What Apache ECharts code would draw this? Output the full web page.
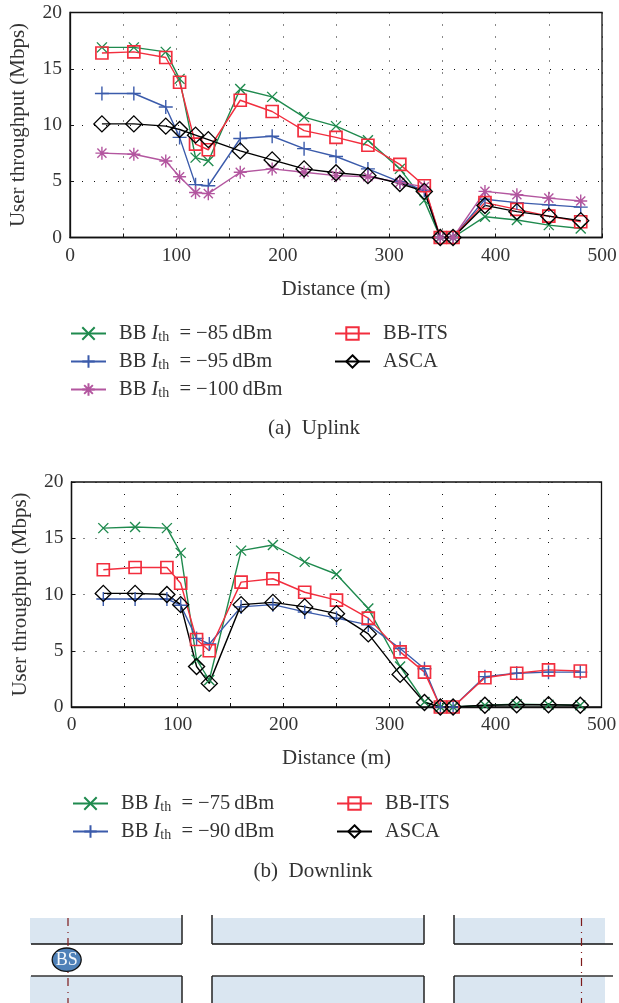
<!DOCTYPE html>
<html><head><meta charset="utf-8">
<style>html,body{margin:0;padding:0;background:#fff}#c{width:619px;height:1003px}</style>
<script src="https://cdn.jsdelivr.net/npm/echarts@6/dist/echarts.min.js"></script>
</head><body><div id="c"></div>
<script>
const distance=[30,60,90,103,118,130,160,190,220,250,280,310,333,348,360,390,420,450,480];
const upBB85=[16.9,16.9,16.5,14.1,7.1,6.8,13.2,12.5,10.7,9.9,8.65,6.1,3.3,0,0,1.85,1.55,1.1,0.8];
const upBB95=[12.8,12.8,11.6,8.9,4.7,4.6,8.8,9.0,7.9,7.2,6.1,4.95,4.2,0,0,3.4,3.1,2.9,2.7];
const upBB100=[7.5,7.4,6.8,5.4,4.0,3.9,5.8,6.1,5.8,5.5,5.4,4.9,4.5,0,0,4.1,3.8,3.5,3.25];
const upITS=[16.4,16.5,16.0,13.8,8.3,7.8,12.2,11.2,9.5,8.9,8.2,6.5,4.6,0,0,3.1,2.5,1.9,1.4];
const upASCA=[10.1,10.1,9.9,9.6,9.1,8.7,7.7,6.9,6.1,5.75,5.5,4.8,4.1,0,0,2.85,2.3,1.9,1.5];
const dnBB75=[15.9,16.0,15.9,13.7,4.2,2.4,13.9,14.4,12.9,11.8,8.75,3.6,0.45,0,0,0.15,0.25,0.2,0.15];
const dnBB90=[9.6,9.6,9.6,9.05,6.1,5.6,8.9,9.1,8.45,7.9,7.3,5.2,3.4,0,0,2.7,3.0,3.1,3.1];
const dnITS=[12.2,12.4,12.4,11.0,6.0,5.0,11.1,11.4,10.2,9.5,7.9,4.9,3.1,0,0,2.6,3.0,3.3,3.2];
const dnASCA=[10.1,10.1,10.0,9.1,3.6,2.1,9.1,9.3,8.9,8.3,6.5,2.9,0.4,0,0,0.15,0.2,0.2,0.15];
const xLabel='Distance (m)', yLabel='User throughput (Mbps)';
const legendThresholdsUp=['−85','−95','−100'], legendThresholdsDn=['−75','−90'];

const serif='"Liberation Serif",serif', ink='#333';
const GREEN='#1f8a4e',BLUE='#3b5bab',PURPLE='#b3569f',RED='#f22e3e',BLACK='#000';
const X='path://M0 0L10 10M10 0L0 10';
const PLUS='path://M5 0V10M0 5H10';
const STAR='path://M5 0V10M0 5H10M1.5 1.5L8.5 8.5M8.5 1.5L1.5 8.5';
const SQ='path://M0 0H10V10H0Z';
const DIA='path://M5 0L10 5L5 10L0 5Z';
const name=t=>'BB Ith = '+t+' dBm';
const pair=ys=>distance.map((d,i)=>[d,ys[i]]);
function line(n,ys,c,sym,size,g){
  return {name:n,type:'line',xAxisIndex:g,yAxisIndex:g,data:pair(ys),symbol:sym,symbolSize:size,showAllSymbol:true,
    lineStyle:{color:c,width:1.4},itemStyle:{color:'rgba(0,0,0,0)',borderColor:c,borderWidth:sym===SQ?1.7:1.4},
    emphasis:{disabled:true},animation:false,z:3};
}
const axisCommon={min:0,axisLine:{show:true,onZero:false,lineStyle:{color:'#111',width:1.3}},
  axisTick:{inside:true,length:4,lineStyle:{color:'#111'}},
  axisLabel:{fontFamily:serif,fontSize:19.5,color:ink,margin:8},
  splitLine:{show:true,lineStyle:{color:'#111',type:[1,11],width:1}},
  nameLocation:'middle',nameTextStyle:{fontFamily:serif,fontSize:21,color:ink}};
const xA=g=>({...axisCommon,type:'value',gridIndex:g,max:500,interval:50,name:xLabel,nameGap:41,
  axisLabel:{...axisCommon.axisLabel,formatter:v=>v%100===0?String(v):''}});
const yA=g=>({...axisCommon,type:'value',gridIndex:g,max:20,interval:5,name:yLabel,nameGap:41});
const rich={i:{fontFamily:serif,fontStyle:'italic',fontSize:20.5,color:ink},
  s:{fontFamily:serif,fontSize:14,color:ink,verticalAlign:'bottom',padding:[6,0,0,0]},
  a:{fontFamily:serif,fontSize:20.5,color:ink}};
const fmt=n=>n.startsWith('BB I')?'{a|BB }{i|I}{s|th}{a| '+n.slice(6).replace(' dBm','\u2009dBm')+'}':'{a|'+n+'}';
const leg=(data,left,top)=>({data,left,top,orient:'vertical',itemWidth:35,itemHeight:15.5,itemGap:7,padding:0,
  selectedMode:false,formatter:fmt,textStyle:{fontFamily:serif,fontSize:20.5,color:ink,rich,padding:[0,0,0,8]}});

const blocks=[[30,182],[212,424],[454,605]];
const gfx=[];
blocks.forEach(([a,b])=>{
  gfx.push({type:'rect',shape:{x:a,y:918,width:b-a,height:26},style:{fill:'#dae6f1'},silent:true});
  gfx.push({type:'rect',shape:{x:a,y:976,width:b-a,height:27},style:{fill:'#dae6f1'},silent:true});
});
const ln=(x1,y1,x2,y2,c,w,dash)=>gfx.push({type:'line',shape:{x1,y1,x2,y2},style:{stroke:c,lineWidth:w,lineDash:dash},silent:true,z:2});
[[31,182,false,true],[212,424,true,true],[454,613,true,false]].forEach(([a,b,l,r])=>{
  ln(a,944,b,944,'#111',1.5); ln(a,976,b,976,'#333',1.5);
  if(l){ln(a,915,a,944,'#222',1.5);ln(a,976,a,1003,'#222',1.5);}
  if(r){ln(b,915,b,944,'#222',1.5);ln(b,976,b,1003,'#222',1.5);}
});
[68,581.5].forEach(x=>ln(x,918,x,1003,'#7d1a1a',1.2,[8,6,1,5]));
gfx.push({type:'ellipse',shape:{cx:66.7,cy:959.7,rx:14.5,ry:11.7},style:{fill:'#4f81b8',stroke:'#111',lineWidth:1.3},silent:true,z:3});
gfx.push({type:'text',style:{x:66.7,y:960,text:'BS',fill:'#f4f8fc',font:'18px '+serif,align:'center',verticalAlign:'middle'},silent:true,z:4});
const cap=(t,x,y)=>gfx.push({type:'text',style:{x,y,text:t,fill:ink,font:'21px '+serif,align:'center',verticalAlign:'middle'},silent:true});
cap('(a)  Uplink',314,428); cap('(b)  Downlink',313,871);

const chart=echarts.init(document.getElementById('c'),null,{renderer:'canvas'});
chart.setOption({animation:false,backgroundColor:'#fff',
  grid:[{left:70,top:12.5,width:532,height:225,show:true,borderColor:'#111',borderWidth:1.3,backgroundColor:'transparent',outerBoundsMode:'none'},
        {left:71.5,top:482,width:530,height:225,show:true,borderColor:'#111',borderWidth:1.3,backgroundColor:'transparent',outerBoundsMode:'none'}],
  xAxis:[xA(0),xA(1)],yAxis:[yA(0),yA(1)],
  legend:[leg([name(legendThresholdsUp[0]),name(legendThresholdsUp[1]),name(legendThresholdsUp[2])],70,323),
          leg(['BB-ITS','ASCA'],334,323),
          leg([name(legendThresholdsDn[0]),name(legendThresholdsDn[1])],72,793),
          leg(['BB-ITS ','ASCA '],336,793)],
  series:[
    line(name(legendThresholdsUp[0]),upBB85,GREEN,X,10,0),
    line(name(legendThresholdsUp[1]),upBB95,BLUE,PLUS,14,0),
    line(name(legendThresholdsUp[2]),upBB100,PURPLE,STAR,13,0),
    line('BB-ITS',upITS,RED,SQ,12,0),
    line('ASCA',upASCA,BLACK,DIA,16,0),
    line(name(legendThresholdsDn[0]),dnBB75,GREEN,X,10,1),
    line(name(legendThresholdsDn[1]),dnBB90,BLUE,PLUS,14,1),
    line('BB-ITS ',dnITS,RED,SQ,12,1),
    line('ASCA ',dnASCA,BLACK,DIA,16,1)
  ],
  graphic:{elements:gfx}
});
</script></body></html>
